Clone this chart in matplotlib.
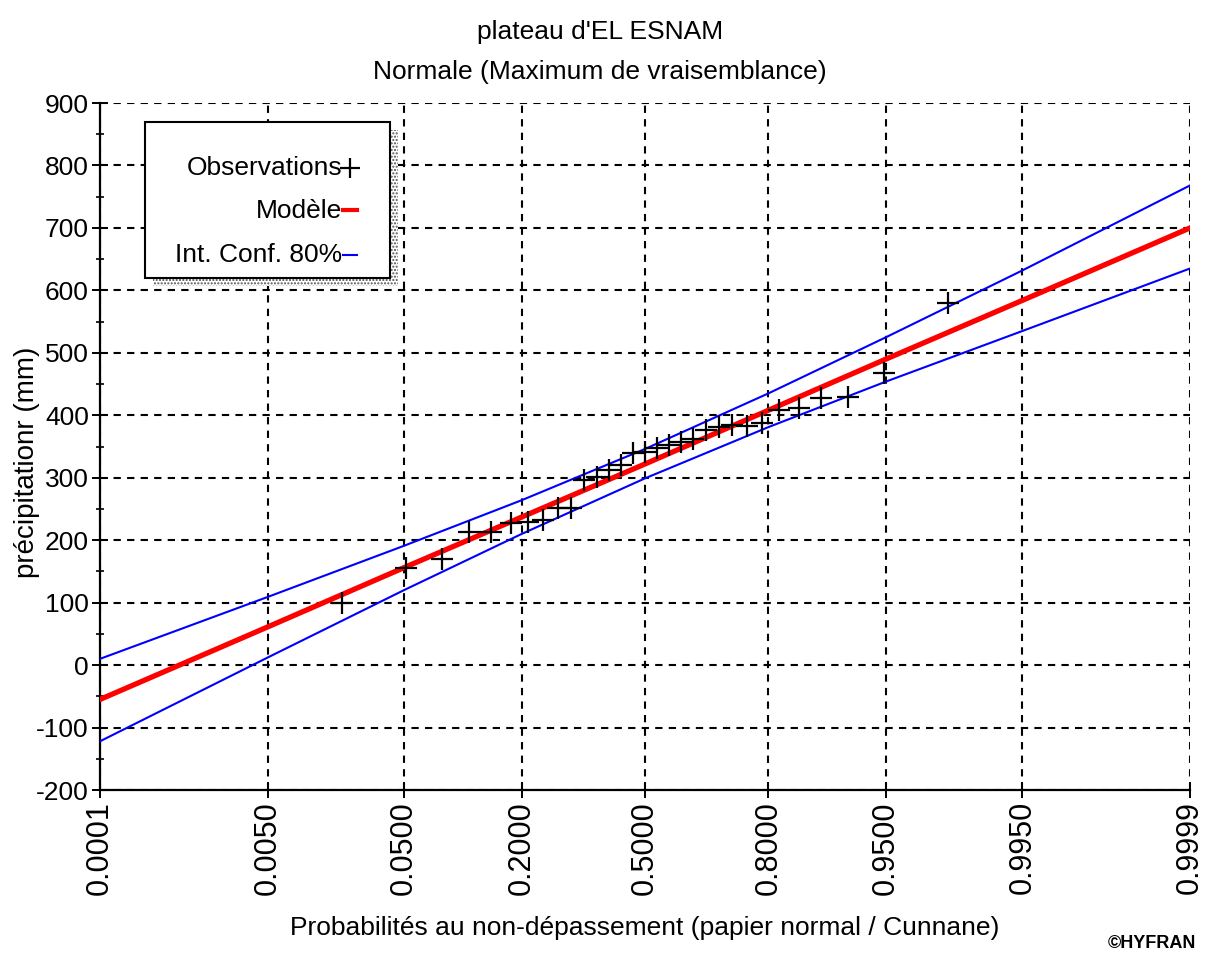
import matplotlib
matplotlib.use("Agg")
import matplotlib.pyplot as plt
from matplotlib.patches import Rectangle
from matplotlib.lines import Line2D
from statistics import NormalDist

plt.rcParams['font.family'] = ['Liberation Sans', 'DejaVu Sans']
plt.rcParams['hatch.color'] = '#505050'

# ---- data ----
tick_probs = [0.0001, 0.0050, 0.0500, 0.2000, 0.5000, 0.8000, 0.9500, 0.9950, 0.9999]
tick_labels = ["0.0001", "0.0050", "0.0500", "0.2000", "0.5000", "0.8000", "0.9500", "0.9950", "0.9999"]

obs_prob = [0.0192, 0.0513, 0.0833, 0.1154, 0.1474, 0.1795, 0.2115, 0.2436, 0.2756, 0.3077,
            0.3397, 0.3718, 0.4038, 0.4359, 0.4679, 0.5000, 0.5321, 0.5641, 0.5962, 0.6282,
            0.6603, 0.6923, 0.7244, 0.7564, 0.7885, 0.8205, 0.8526, 0.8846, 0.9167, 0.9487, 0.9808]
obs_value = [99, 155, 170, 213, 213, 227, 229, 232, 251, 251,
             296, 301, 312, 320, 339, 341, 347, 352, 358, 362,
             376, 382, 385, 383, 387, 408, 411, 427, 430, 468, 580]

curve_prob = [0.0001, 0.0050, 0.0500, 0.2000, 0.5000, 0.8000, 0.9500, 0.9950, 0.9999]
model_value = [-55, 61, 156, 237, 322, 408, 490, 584, 700]
upper_value = [10, 109, 191, 264, 346, 435, 525, 632, 768]
lower_value = [-122, 12, 120, 210, 299, 381, 454, 535, 635]

yticks = list(range(-200, 901, 100))

nd = NormalDist()
z = lambda ps: [nd.inv_cdf(p) for p in ps]

W, H = 1205, 957
fig = plt.figure(figsize=(W / 100, H / 100), dpi=100)
ax = fig.add_axes([100 / W, 1 - 790 / H, (1190 - 100) / W, (790 - 103) / H])

ax.plot(z(curve_prob), upper_value, color='#0000ff', lw=1.5, zorder=3)
ax.plot(z(curve_prob), lower_value, color='#0000ff', lw=1.5, zorder=3)
ax.plot(z(curve_prob), model_value, color='#ff0000', lw=3.8, zorder=4)
ax.plot(z(obs_prob), obs_value, linestyle='none', marker='+', markersize=16,
        markeredgewidth=1.6, color='black', zorder=5)

ax.set_xlim(nd.inv_cdf(tick_probs[0]), nd.inv_cdf(tick_probs[-1]))
ax.set_ylim(-200, 900)
ax.set_xticks(z(tick_probs))
ax.set_xticklabels(tick_labels, rotation=90, fontsize=22)
ax.set_yticks(yticks)
ax.set_yticklabels([str(v) for v in yticks], fontsize=19)
ax.set_yticks(list(range(-150, 900, 100)), minor=True)

ax.grid(True, which='major', color='black', linestyle=(0, (3.5, 3)), lw=1.5)
for s in ['top', 'right']:
    ax.spines[s].set_visible(False)
for s in ['left', 'bottom']:
    ax.spines[s].set_linewidth(1.6)
ax.tick_params(axis='both', which='major', direction='inout', length=12, width=1.4, pad=2)
ax.tick_params(axis='y', which='minor', direction='inout', length=6, width=1.2)

ax.set_xlabel("Probabilités au non-dépassement (papier normal / Cunnane)", fontsize=19)
ax.xaxis.label.set_va('center')
ax.xaxis.set_label_coords(0.5, -(928 - 790) / 687)
ax.set_ylabel("précipitationr (mm)", fontsize=20)
ax.yaxis.label.set_va('center')
ax.yaxis.set_label_coords(-(100 - 27) / 1090, (790 - 462) / 687)

fig.text(600 / W, 1 - 32 / H, "plateau d'EL ESNAM", ha='center', va='center', fontsize=19)
fig.text(600 / W, 1 - 72 / H, "Normale (Maximum de vraisemblance)", ha='center', va='center', fontsize=19)
fig.text(1152 / W, 1 - 944 / H, "©HYFRAN", ha='center', va='center', fontsize=13, fontweight='bold')

# legend box with shadow
def fx(px):
    return px / W
def fy(py):
    return 1 - py / H

shadow = Rectangle((fx(153), fy(286)), fx(390) - fx(145), fy(122) - fy(278),
                   transform=fig.transFigure, facecolor='white', edgecolor='#505050',
                   hatch='.....', lw=0, zorder=10)
fig.add_artist(shadow)
box = Rectangle((fx(145), fy(278)), fx(390) - fx(145), fy(122) - fy(278),
                transform=fig.transFigure, facecolor='white', edgecolor='black', lw=1.5, zorder=11)
fig.add_artist(box)
leg_items = [("Observations", 168), ("Modèle", 211), ("Int. Conf. 80%", 255)]
for txt, py in leg_items:
    fig.text(fx(342), fy(py), txt, ha='right', va='center', fontsize=19, zorder=12)
fig.add_artist(Line2D([fx(350)], [fy(168)], marker='+', markersize=15, markeredgewidth=1.6,
                      color='black', transform=fig.transFigure, zorder=12))
fig.add_artist(Line2D([fx(343), fx(357)], [fy(210), fy(210)], color='#ff0000', lw=3,
                      transform=fig.transFigure, zorder=12))
fig.add_artist(Line2D([fx(343), fx(357)], [fy(255), fy(255)], color='#0000ff', lw=1.5,
                      transform=fig.transFigure, zorder=12))

fig.savefig("out.png", dpi=100)
